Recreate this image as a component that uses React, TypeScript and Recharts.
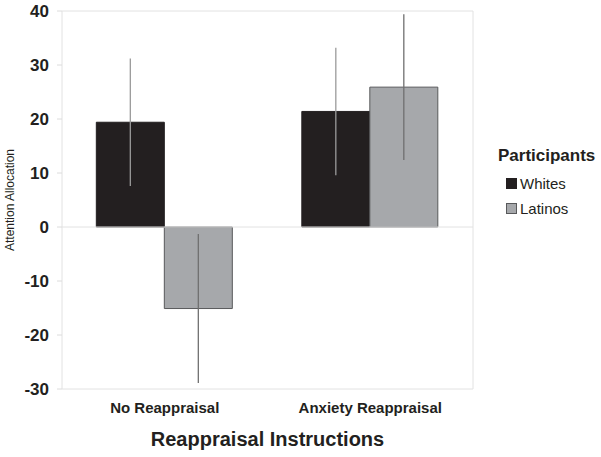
import React from 'react';
import {
    BarChart,
    Bar,
    XAxis,
    YAxis,
    ErrorBar,
    ReferenceArea,
    ReferenceLine,
    Label,
} from 'recharts';

// values
const categories = ['No Reappraisal', 'Anxiety Reappraisal'];
const whites = [19.4, 21.4];
const latinos = [-15.1, 25.9];
const whitesErr = [11.8, 11.8];
const latinosErr = [13.8, 13.5];
const yTicks = [-30, -20, -10, 0, 10, 20, 30, 40];

const series = [
    { key: 'whites', name: 'Whites', fill: '#231f20', stroke: '#231f20', err: '#9a9a9a' },
    { key: 'latinos', name: 'Latinos', fill: '#a6a8ab', stroke: '#58595b', err: '#6f6f6f' },
];

const data = categories.map((cat, i) => ({
    cat,
    whites: whites[i],
    latinos: latinos[i],
    whitesErr: whitesErr[i],
    latinosErr: latinosErr[i],
}));

const font = '"Liberation Sans", Arial, sans-serif';
const ink = '#231f20';

export default function App() {
    return (
        <div style={{ position: 'absolute', left: 0, top: 0, width: 601, height: 457, background: '#fff', fontFamily: font }}>
            <BarChart
                width={601}
                height={457}
                data={data}
                margin={{ top: 11, right: 128, bottom: 0, left: 0 }}
                barCategoryGap="16.7%"
                barGap={0}
            >
                <ReferenceArea y1={-30} y2={40} fill="#fff" stroke="#e2e2e2" strokeWidth={1} ifOverflow="visible" />
                <ReferenceLine y={0} stroke="#e2e2e2" strokeWidth={1} />
                <XAxis
                    dataKey="cat"
                    height={68}
                    axisLine={false}
                    tickLine={false}
                    tickSize={0}
                    tickMargin={13}
                    tick={{ fontFamily: font, fontSize: 15, fontWeight: 700, fill: ink }}
                >
                    <Label
                        value="Reappraisal Instructions"
                        position="insideBottom"
                        offset={11}
                        style={{ fontFamily: font, fontSize: 20, fontWeight: 700, fill: ink }}
                    />
                </XAxis>
                <YAxis
                    width={62}
                    domain={[-30, 40]}
                    ticks={yTicks}
                    interval={0}
                    axisLine={false}
                    tickLine={{ stroke: '#dcdcdc' }}
                    tickSize={5}
                    tickMargin={8}
                    tick={{ fontFamily: font, fontSize: 17, fontWeight: 700, fill: ink }}
                >
                    <Label
                        value="Attention Allocation"
                        angle={-90}
                        position="center"
                        dx={-21}
                        style={{ fontFamily: font, fontSize: 12, fill: ink }}
                    />
                </YAxis>
                {series.map((s) => (
                    <Bar
                        key={s.key}
                        dataKey={s.key}
                        name={s.name}
                        fill={s.fill}
                        stroke={s.stroke}
                        strokeWidth={1}
                        isAnimationActive={false}
                    >
                        <ErrorBar dataKey={`${s.key}Err`} width={0} stroke={s.err} strokeWidth={1.3} direction="y" />
                    </Bar>
                ))}
            </BarChart>

            {/* Legend */}
            <div style={{ position: 'absolute', left: 498, top: 146, color: ink }}>
                <div style={{ fontSize: 17, fontWeight: 700, lineHeight: '20px' }}>Participants</div>
                {series.map((s, i) => (
                    <div
                        key={s.key}
                        style={{ display: 'flex', alignItems: 'center', marginTop: i === 0 ? 8 : 7, marginLeft: 8, height: 18, fontSize: 15 }}
                    >
                        <span
                            style={{
                                display: 'inline-block',
                                width: 9,
                                height: 9,
                                background: s.fill,
                                border: `1px solid ${s.stroke}`,
                                marginRight: 3,
                            }}
                        />
                        <span>{s.name}</span>
                    </div>
                ))}
            </div>
        </div>
    );
}
